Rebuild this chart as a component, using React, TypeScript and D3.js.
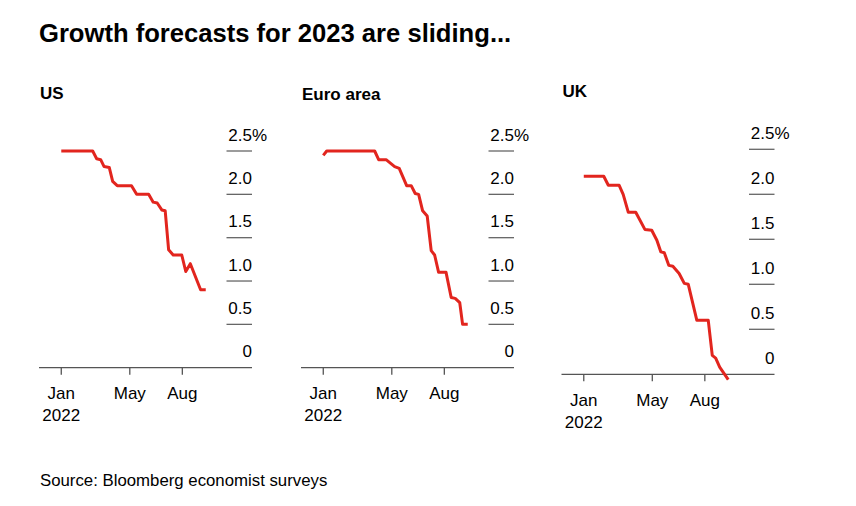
import React from "react";
import * as d3 from "d3";

const usDates = ["2022-01-01","2022-02-25","2022-03-04","2022-03-11","2022-03-17","2022-03-26","2022-04-01","2022-04-09","2022-05-04","2022-05-13","2022-06-03","2022-06-11","2022-06-18","2022-06-26","2022-07-02","2022-07-08","2022-07-16","2022-07-31","2022-08-07","2022-08-15","2022-09-02","2022-09-11"];
const usValues = [2.5,2.5,2.41,2.4,2.32,2.31,2.15,2.1,2.1,2.0,2.0,1.91,1.9,1.82,1.81,1.36,1.3,1.3,1.11,1.2,0.9,0.9];

const euroDates = ["2022-01-01","2022-01-07","2022-04-01","2022-04-08","2022-04-21","2022-05-06","2022-05-14","2022-05-27","2022-06-04","2022-06-11","2022-06-17","2022-06-24","2022-07-02","2022-07-09","2022-07-15","2022-07-22","2022-08-04","2022-08-13","2022-08-20","2022-08-28","2022-09-02","2022-09-11"];
const euroValues = [2.45,2.5,2.5,2.4,2.4,2.32,2.3,2.1,2.1,2.01,2.0,1.81,1.75,1.35,1.3,1.1,1.1,0.81,0.8,0.75,0.5,0.5];

const ukDates = ["2022-01-01","2022-02-05","2022-02-13","2022-03-04","2022-03-11","2022-03-20","2022-04-02","2022-04-18","2022-04-30","2022-05-09","2022-05-16","2022-05-22","2022-05-30","2022-06-06","2022-06-17","2022-06-26","2022-07-03","2022-07-18","2022-08-07","2022-08-14","2022-08-20","2022-08-27","2022-09-11"];
const ukValues = [2.2,2.2,2.1,2.1,2.0,1.8,1.8,1.61,1.6,1.49,1.36,1.35,1.21,1.2,1.12,1.01,1.0,0.6,0.6,0.21,0.18,0.08,-0.06];

const yTicks = [0, 0.5, 1.0, 1.5, 2.0, 2.5];
const xTickDates = ["2022-01-01", "2022-05-01", "2022-08-01"];
const xTickLabels = ["Jan", "May", "Aug"];
const panelTitles = ["US", "Euro area", "UK"];

const FONT = "'Liberation Sans', Arial, Helvetica, sans-serif";
const RED = "#e2251e";
const parse = d3.timeParse("%Y-%m-%d");

type PanelProps = {
  title: string;
  dates: string[];
  values: number[];
  left: number;
  y0: number;
  yTop: number;
  titleY: number;
};

function Panel({ title, dates, values, left, y0, yTop, titleY }: PanelProps) {
  const width = 213;
  const x = d3
    .scaleTime()
    .domain([parse("2021-11-23") as Date, parse("2022-12-01") as Date])
    .range([left, left + width]);
  const y = d3.scaleLinear().domain([0, 2.5]).range([y0, yTop]);
  const right = left + width;
  const data = dates.map((d, i) => ({ date: parse(d) as Date, value: values[i] }));
  const line = d3
    .line<{ date: Date; value: number }>()
    .x((d) => x(d.date))
    .y((d) => y(d.value));

  return (
    <g>
      <text x={left + 1} y={titleY} fontFamily={FONT} fontWeight="bold" fontSize={17} fill="#000">
        {title}
      </text>
      {yTicks.map((t) => (
        <g key={t}>
          {t !== 0 && (
            <line x1={right - 25.5} x2={right} y1={y(t)} y2={y(t)} stroke="#666" strokeWidth={1.3} />
          )}
          <text
            x={right}
            y={y(t) - 10.5}
            textAnchor="end"
            fontFamily={FONT}
            fontSize={17}
            fill="#000"
          >
            {t === 0 ? "0" : d3.format(".1f")(t)}
          </text>
          {t === 2.5 && (
            <text x={right} y={y(t) - 10.5} fontFamily={FONT} fontSize={17} fill="#000">
              %
            </text>
          )}
        </g>
      ))}
      <line x1={left} x2={right} y1={y(0)} y2={y(0)} stroke="#555" strokeWidth={1.3} />
      {xTickDates.map((d, i) => {
        const xx = x(parse(d) as Date);
        return (
          <g key={d}>
            <line x1={xx} x2={xx} y1={y(0)} y2={y(0) + 7} stroke="#555" strokeWidth={1.3} />
            <text x={xx} y={y(0) + 31.5} textAnchor="middle" fontFamily={FONT} fontSize={17} fill="#000">
              {xTickLabels[i]}
            </text>
            {i === 0 && (
              <text x={xx} y={y(0) + 53.5} textAnchor="middle" fontFamily={FONT} fontSize={17} fill="#000">
                2022
              </text>
            )}
          </g>
        );
      })}
      <path d={line(data) || ""} fill="none" stroke={RED} strokeWidth={3} strokeLinejoin="round" />
    </g>
  );
}

export default function App() {
  return (
    <svg
      width={856}
      height={506}
      style={{ position: "absolute", left: 0, top: 0, background: "#fff" }}
    >
      <rect width={856} height={506} fill="#fff" />
      <text x={39} y={41.5} fontFamily={FONT} fontWeight="bold" fontSize={25.6} fill="#000">
        Growth forecasts for 2023 are sliding...
      </text>
      <Panel title={panelTitles[0]} dates={usDates} values={usValues} left={39} y0={367.7} yTop={151} titleY={99} />
      <Panel title={panelTitles[1]} dates={euroDates} values={euroValues} left={301} y0={367.7} yTop={151} titleY={100} />
      <Panel title={panelTitles[2]} dates={ukDates} values={ukValues} left={561.5} y0={374.3} yTop={149.3} titleY={97} />
      <text x={40} y={486} fontFamily={FONT} fontSize={16.8} fill="#000">
        Source: Bloomberg economist surveys
      </text>
    </svg>
  );
}
